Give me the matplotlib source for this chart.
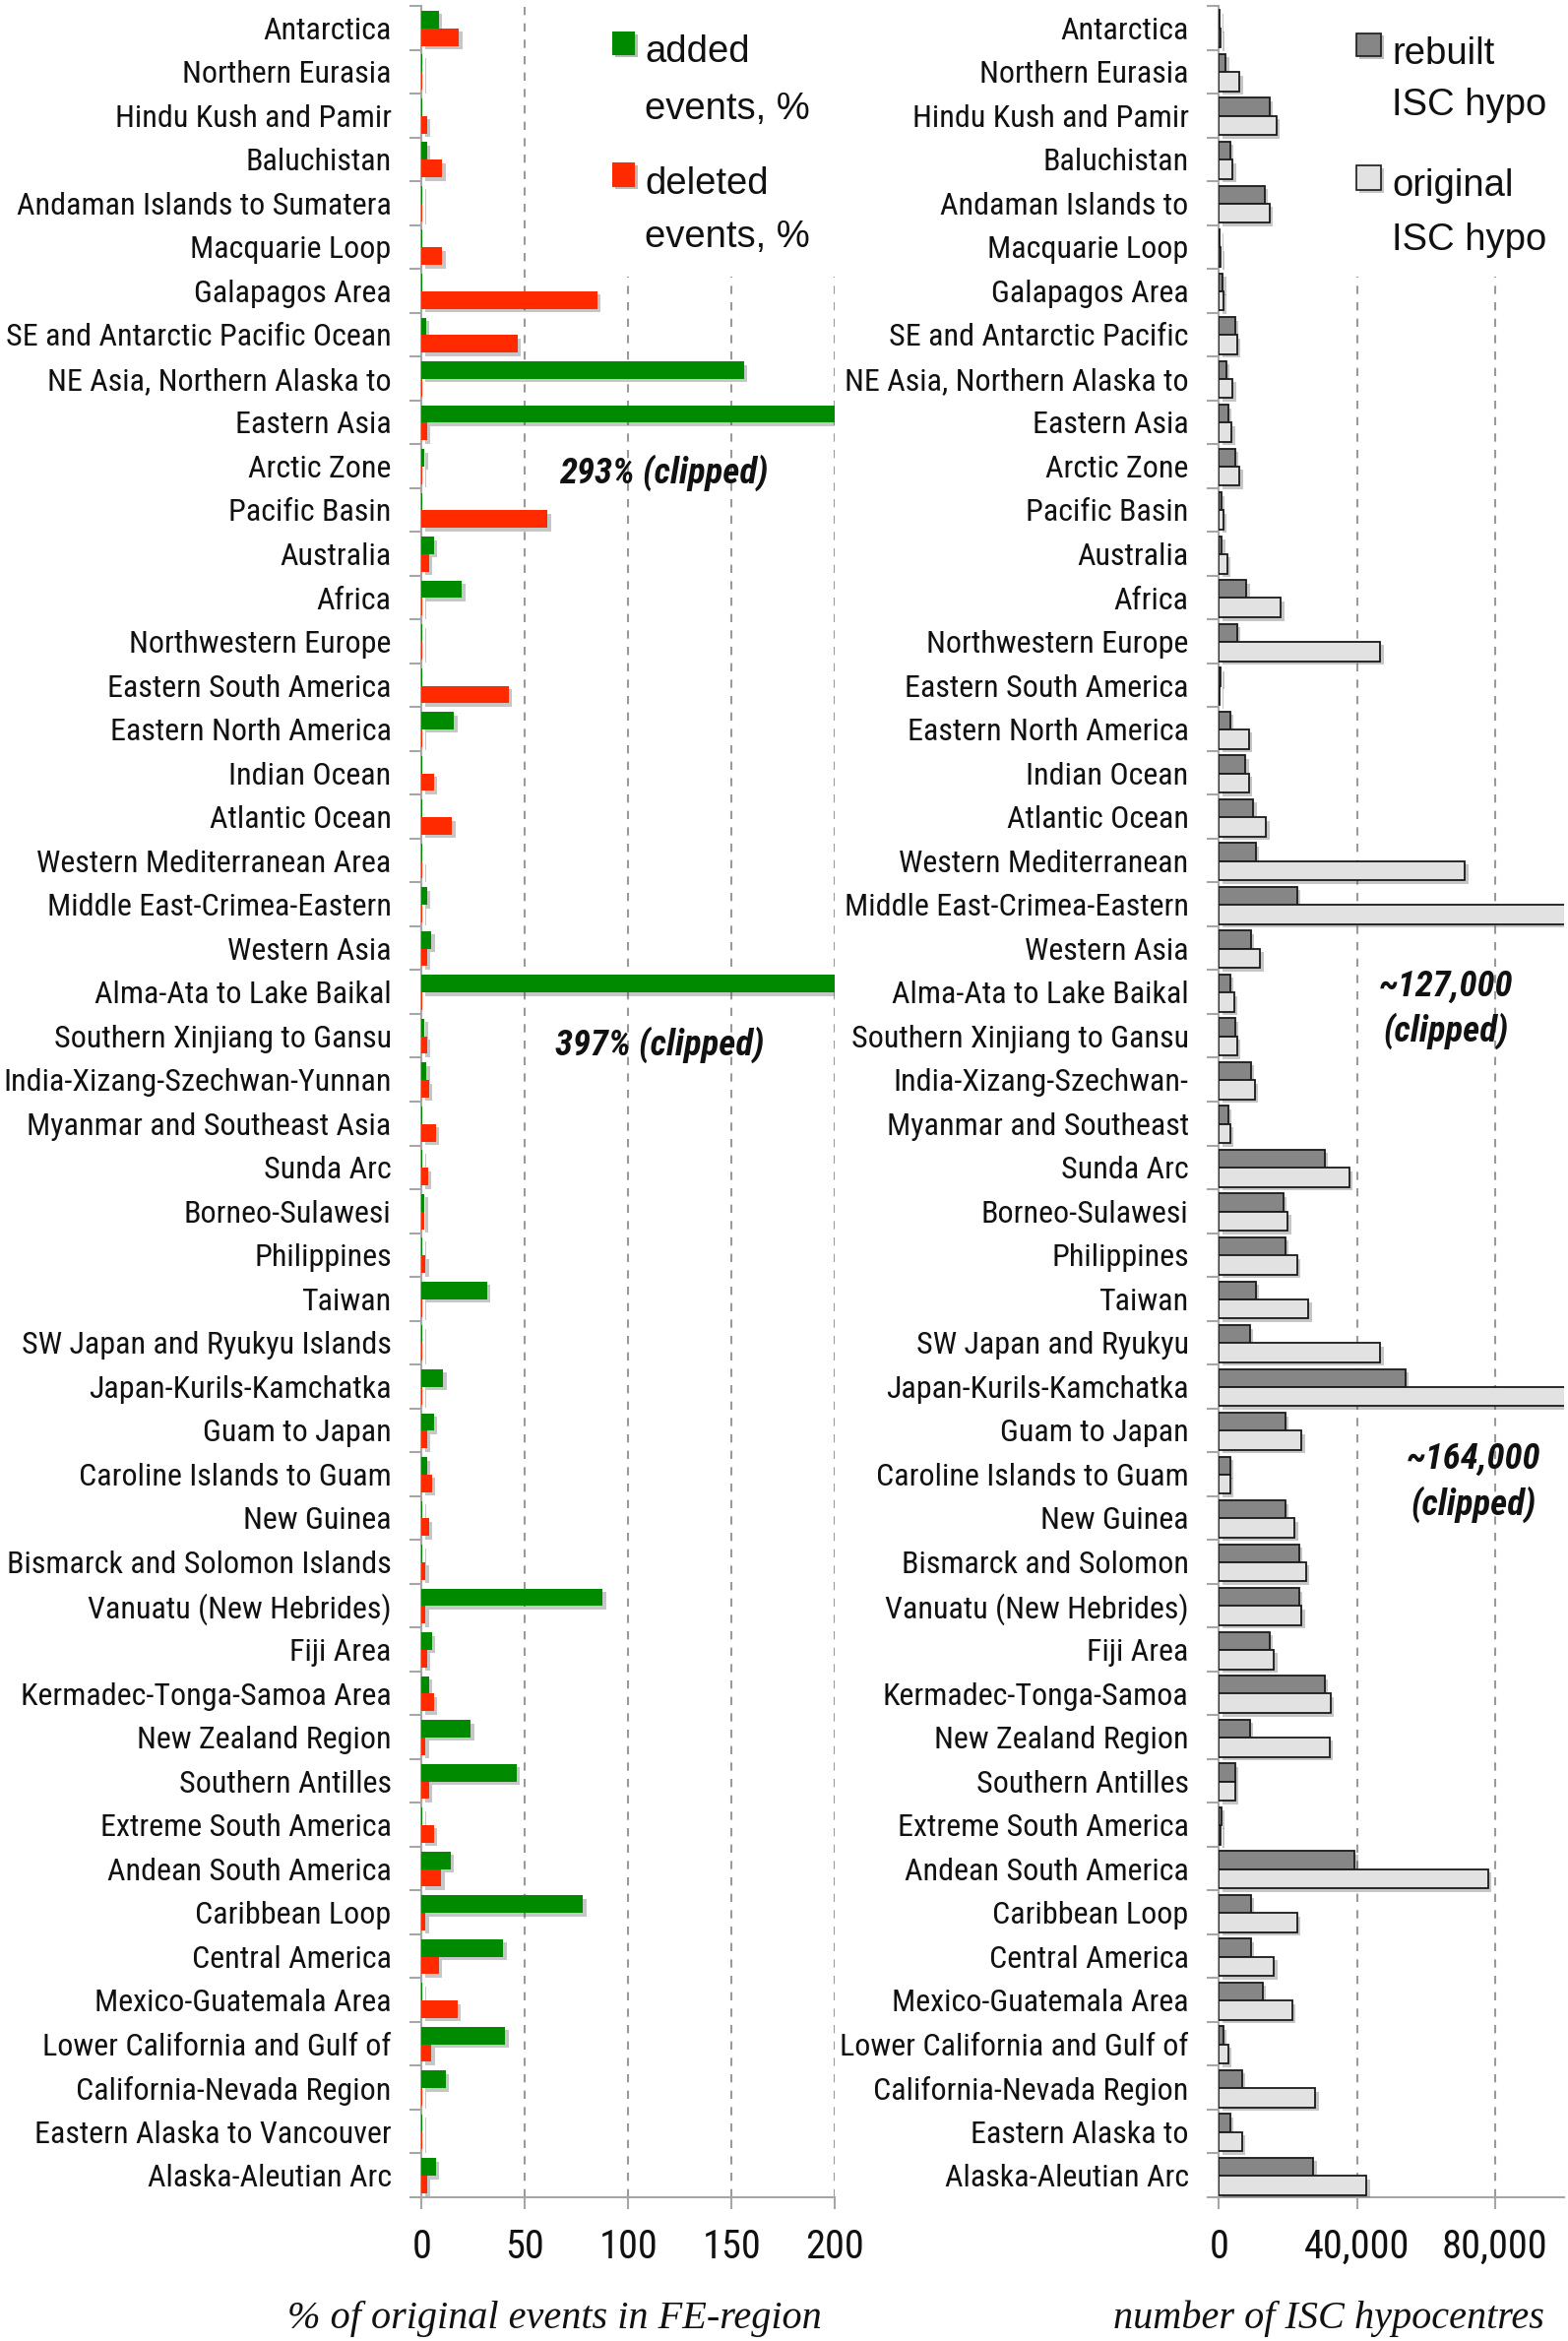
import os
import numpy as np
import matplotlib
matplotlib.use("Agg")
import matplotlib.pyplot as plt
from matplotlib.patches import Rectangle
import matplotlib.patheffects as pe
from matplotlib import font_manager as fm
from matplotlib.font_manager import FontProperties

# ---------------- data ----------------
regions_left = [
    "Antarctica", "Northern Eurasia", "Hindu Kush and Pamir", "Baluchistan",
    "Andaman Islands to Sumatera", "Macquarie Loop", "Galapagos Area",
    "SE and Antarctic Pacific Ocean", "NE Asia, Northern Alaska to", "Eastern Asia",
    "Arctic Zone", "Pacific Basin", "Australia", "Africa", "Northwestern Europe",
    "Eastern South America", "Eastern North America", "Indian Ocean", "Atlantic Ocean",
    "Western Mediterranean Area", "Middle East-Crimea-Eastern", "Western Asia",
    "Alma-Ata to Lake Baikal", "Southern Xinjiang to Gansu", "India-Xizang-Szechwan-Yunnan",
    "Myanmar and Southeast Asia", "Sunda Arc", "Borneo-Sulawesi", "Philippines", "Taiwan",
    "SW Japan and Ryukyu Islands", "Japan-Kurils-Kamchatka", "Guam to Japan",
    "Caroline Islands to Guam", "New Guinea", "Bismarck and Solomon Islands",
    "Vanuatu (New Hebrides)", "Fiji Area", "Kermadec-Tonga-Samoa Area", "New Zealand Region",
    "Southern Antilles", "Extreme South America", "Andean South America", "Caribbean Loop",
    "Central America", "Mexico-Guatemala Area", "Lower California and Gulf of",
    "California-Nevada Region", "Eastern Alaska to Vancouver", "Alaska-Aleutian Arc",
]
regions_right = [
    "Antarctica", "Northern Eurasia", "Hindu Kush and Pamir", "Baluchistan",
    "Andaman Islands to", "Macquarie Loop", "Galapagos Area",
    "SE and Antarctic Pacific", "NE Asia, Northern Alaska to", "Eastern Asia",
    "Arctic Zone", "Pacific Basin", "Australia", "Africa", "Northwestern Europe",
    "Eastern South America", "Eastern North America", "Indian Ocean", "Atlantic Ocean",
    "Western Mediterranean", "Middle East-Crimea-Eastern", "Western Asia",
    "Alma-Ata to Lake Baikal", "Southern Xinjiang to Gansu", "India-Xizang-Szechwan-",
    "Myanmar and Southeast", "Sunda Arc", "Borneo-Sulawesi", "Philippines", "Taiwan",
    "SW Japan and Ryukyu", "Japan-Kurils-Kamchatka", "Guam to Japan",
    "Caroline Islands to Guam", "New Guinea", "Bismarck and Solomon",
    "Vanuatu (New Hebrides)", "Fiji Area", "Kermadec-Tonga-Samoa", "New Zealand Region",
    "Southern Antilles", "Extreme South America", "Andean South America", "Caribbean Loop",
    "Central America", "Mexico-Guatemala Area", "Lower California and Gulf of",
    "California-Nevada Region", "Eastern Alaska to", "Alaska-Aleutian Arc",
]
added_pct = [8.3, 0.5, 0.3, 2.6, 0.5, 0.3, 0.3, 2.0, 156, 293,
             1.5, 0.3, 6.0, 19.5, 0.5, 0.3, 15.6, 0.3, 0.3, 0.3,
             2.6, 4.7, 397, 1.5, 2.3, 0.3, 0.5, 1.5, 0.5, 31.7,
             0.5, 10.4, 6.0, 2.6, 0.5, 0.5, 87.5, 5.0, 3.6, 23.9,
             46, 0.5, 14, 78, 39.5, 0.5, 40.5, 11.7, 0.5, 7.0]
deleted_pct = [18, 0.5, 2.6, 10, 0.5, 10, 85, 46.5, 0.3, 2.6,
               0.5, 61, 3.6, 0.5, 0.5, 42, 0.5, 6.0, 14.8, 0.5,
               0.5, 2.6, 0.3, 2.6, 3.6, 7.0, 3.0, 1.5, 1.8, 0.5,
               0.5, 0.5, 2.6, 5.0, 3.6, 1.8, 1.8, 2.6, 6.0, 1.8,
               3.6, 6.0, 9.6, 1.8, 8.3, 17.4, 4.7, 0.5, 0.5, 2.6]
rebuilt_hypo = [300, 2000, 14700, 3300, 13300, 300, 1100, 4700, 2100, 2700,
                4700, 700, 800, 8000, 5300, 500, 3300, 7700, 10000, 10700,
                22700, 9300, 3300, 4700, 9300, 2700, 30700, 18700, 19300, 10700,
                8900, 54000, 19300, 3300, 19300, 23300, 23300, 14700, 30700, 8900,
                4700, 700, 39300, 9300, 9300, 12700, 1300, 6700, 3300, 27300]
original_hypo = [500, 6000, 16700, 4000, 14700, 500, 1300, 5300, 4000, 3700,
                 6000, 1300, 2400, 18000, 46700, 300, 8700, 8700, 13700, 71300,
                 127000, 12000, 4400, 5300, 10400, 3300, 37700, 20000, 22700, 26000,
                 46700, 164000, 24000, 3300, 22000, 25300, 24000, 16000, 32400, 32000,
                 4700, 500, 78000, 22700, 16000, 21300, 2700, 28000, 6700, 42700]
left_ticks = [0, 50, 100, 150, 200]
right_ticks = [0, 40000, 80000]
right_ticklabels = ["0", "40,000", "80,000"]

# ---------------- style ----------------
W, H = 1593, 2378
REG = ["Liberation Sans", "DejaVu Sans"]
SERIF = ["Liberation Serif", "DejaVu Serif"]
GRAY = "#a6a6a6"
GREEN = "#008a00"
RED = "#ff2a00"
DARK = "#868686"
LIGHT = "#e2e2e2"
INK = "#111111"


def _wnum(w):
    if isinstance(w, str):
        return fm.weight_dict.get(w, 400)
    return w


def find_condensed(bold=False, italic=False):
    """Look for an installed narrow / condensed sans face."""
    cands = []
    for f in fm.fontManager.ttflist:
        key = (f.name + " " + os.path.basename(f.fname)).lower()
        if not ("narrow" in key or "condensed" in key):
            continue
        bad = ("mono", "serif", "extra", "ultra", "semi", "light", "thin",
               "medium", "black", "heavy")
        if any(b in key for b in bad):
            continue
        w = _wnum(f.weight)
        isi = f.style in ("italic", "oblique")
        if bold and not (600 <= w <= 750):
            continue
        if not bold and not (350 <= w <= 500):
            continue
        if isi != italic:
            continue
        if "liberation" in key:
            rank = 0
        elif "roboto" in key:
            rank = 1
        elif "open" in key:
            rank = 2
        elif "dejavu" in key:
            rank = 4
        else:
            rank = 3
        cands.append((rank, f.fname))
    if cands:
        cands.sort()
        return FontProperties(fname=cands[0][1])
    return FontProperties(family=REG, weight="bold" if bold else "normal",
                          style="italic" if italic else "normal")


fp_lab = find_condensed()
fp_ann = find_condensed(bold=True, italic=True)

fig = plt.figure(figsize=(W / 100, H / 100), dpi=100)
fig.patch.set_facecolor("white")
renderer = fig.canvas.get_renderer()


def fitted(fp, sample, target_px):
    """Return a copy of fp sized so that `sample` is target_px wide."""
    p = fp.copy()
    p.set_size(20)
    t = fig.text(0, 0, sample, fontproperties=p)
    bb = t.get_window_extent(renderer)
    t.remove()
    p.set_size(20 * target_px / bb.width)
    return p


fp_ylab = fitted(fp_lab, "India-Xizang-Szechwan-Yunnan", 392)
fp_xtick = fitted(fp_lab, "40,000", 108)
fp_annot = fitted(fp_ann, "293% (clipped)", 212)


def px_axes(x0, x1, y0, y1):
    return fig.add_axes([x0 / W, 1 - y1 / H, (x1 - x0) / W, (y1 - y0) / H])


def fx(x):
    return x / W


def fy(y):
    return 1 - y / H


axL = px_axes(428.3, 848.3, 6, 2232)
axR = px_axes(1238.3, 1589, 6, 2232)

n = len(regions_left)
y = np.arange(n)

shadow = [pe.SimplePatchShadow(offset=(2.5, -2.5), shadow_rgbFace="#444444", alpha=0.3),
          pe.Normal()]

# left panel
bars_g = axL.barh(y - 0.19, added_pct, height=0.4, color=GREEN, zorder=3)
bars_r = axL.barh(y + 0.21, deleted_pct, height=0.4, color=RED, zorder=3)
for b in list(bars_g) + list(bars_r):
    b.set_path_effects(shadow)
axL.set_xlim(0, 200)
axL.set_xticks(left_ticks)
axL.set_xticklabels([str(t) for t in left_ticks])

# right panel
bars_d = axR.barh(y - 0.19, rebuilt_hypo, height=0.42, color=DARK,
                  edgecolor="#1a1a1a", linewidth=1.3, zorder=3)
bars_l = axR.barh(y + 0.23, original_hypo, height=0.44, color=LIGHT,
                  edgecolor="#1a1a1a", linewidth=1.3, zorder=3)
for b in list(bars_d) + list(bars_l):
    b.set_path_effects(shadow)
axR.set_xlim(0, 100000)
axR.set_xticks(right_ticks)
axR.set_xticklabels(right_ticklabels)

for ax, labels in ((axL, regions_left), (axR, regions_right)):
    ax.set_ylim(n - 0.5, -0.5)
    ax.set_yticks(y)
    ax.set_yticklabels(labels, fontproperties=fp_ylab, color=INK)
    ax.set_yticks(np.arange(-0.5, n, 1.0), minor=True)
    ax.tick_params(axis="y", which="major", length=0, pad=22)
    ax.tick_params(axis="y", which="minor", length=8.5, width=1.5, color=GRAY,
                   direction="out")
    ax.tick_params(axis="x", which="major", length=8.5, width=1.5, color=GRAY,
                   direction="out", pad=14)
    for t in ax.get_xticklabels():
        t.set_fontproperties(fp_xtick)
        t.set_color(INK)
    for s in ("top", "right"):
        ax.spines[s].set_visible(False)
    for s in ("left", "bottom"):
        ax.spines[s].set_color(GRAY)
        ax.spines[s].set_linewidth(1.5)
    ax.set_axisbelow(True)
    ax.xaxis.grid(True, linestyle=(0, (4, 4)), color="#9a9a9a", linewidth=1.5)
    ax.set_facecolor("none")

# white boxes behind the legends (hide grid lines there)
axL.add_patch(Rectangle((0.4, 0.8765), 0.61, 0.13, transform=axL.transAxes,
                        facecolor="white", edgecolor="none", zorder=1))
axR.add_patch(Rectangle((0.2, 0.8765), 0.81, 0.13, transform=axR.transAxes,
                        facecolor="white", edgecolor="none", zorder=1))

# annotations for clipped bars
ann = dict(fontproperties=fp_annot, ha="center", va="center", color=INK, zorder=5)
axL.text(117, 10.15, "293% (clipped)", **ann)
axL.text(115, 23.2, "397% (clipped)", **ann)
axR.text(65800, 22.38, "~127,000\n(clipped)", linespacing=1.3, **ann)
axR.text(73800, 33.18, "~164,000\n(clipped)", linespacing=1.3, **ann)


# legends (drawn manually)
def legend_item(x0, y0, x1, y1, color, edge, lines, tx, baselines):
    fig.add_artist(Rectangle((fx(x0), fy(y1)), fx(x1 - x0), (y1 - y0) / H,
                             transform=fig.transFigure, facecolor=color,
                             edgecolor=edge, linewidth=1.2,
                             path_effects=[pe.SimplePatchShadow(offset=(2, -2),
                                                                alpha=0.3),
                                           pe.Normal()]))
    for line, bl in zip(lines, baselines):
        fig.text(fx(tx), fy(bl), line, fontfamily=REG, fontsize=27.5,
                 ha="left", va="baseline", color=INK)


legend_item(622, 32.5, 645, 55.5, GREEN, "none", ["added", "events, %"], 655, [63, 120.5])
legend_item(622, 165, 645, 189.5, RED, "none", ["deleted", "events, %"], 655, [197, 250.7])
legend_item(1378, 33.7, 1403, 57.4, DARK, "#1a1a1a", ["rebuilt", "ISC hypo"], 1414, [65, 116.7])
legend_item(1378, 168, 1403, 193, LIGHT, "#1a1a1a", ["original", "ISC hypo"], 1414, [199, 254.5])

# axis titles
fig.text(fx(563), fy(2365), "% of original events in FE-region", fontfamily=SERIF,
         fontstyle="italic", fontsize=29, ha="center", va="baseline", color=INK)
fig.text(fx(1350), fy(2365), "number of ISC hypocentres", fontfamily=SERIF,
         fontstyle="italic", fontsize=29, ha="center", va="baseline", color=INK)

fig.savefig("out.png", dpi=100, facecolor="white")
